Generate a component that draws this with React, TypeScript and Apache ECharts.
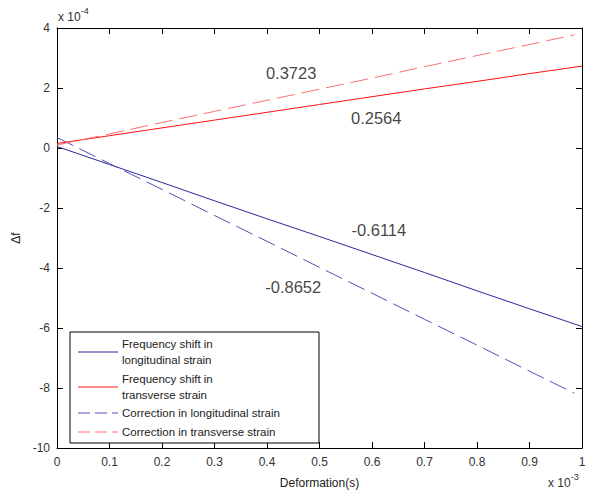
import React, { useEffect, useRef } from "react";
import * as echarts from "echarts";

const xSolid = [0, 0.1, 0.2, 0.3, 0.4, 0.5, 0.6, 0.7, 0.8, 0.9, 1.0];
const xDashed = [0, 0.1, 0.2, 0.3, 0.4, 0.5, 0.6, 0.7, 0.8, 0.9, 0.985];
const freqLongitudinal = [0.05, -0.55, -1.15, -1.76, -2.36, -2.95, -3.55, -4.15, -4.76, -5.36, -5.95];
const freqTransverse = [0.15, 0.41, 0.67, 0.93, 1.19, 1.45, 1.71, 1.97, 2.22, 2.48, 2.73];
const corrLongitudinal = [0.35, -0.52, -1.38, -2.25, -3.11, -3.98, -4.84, -5.71, -6.57, -7.44, -8.17];
const corrTransverse = [0.1, 0.47, 0.85, 1.22, 1.59, 1.96, 2.33, 2.71, 3.08, 3.45, 3.77];
const slopeLabels = [
  { text: "0.3723", x: 0.446, y: 2.51 },
  { text: "0.2564", x: 0.608, y: 1.0 },
  { text: "-0.6114", x: 0.613, y: -2.72 },
  { text: "-0.8652", x: 0.45, y: -4.62 },
];
const legendItems = [
  { name: "Frequency shift in\nlongitudinal strain", color: "#2a2a9a", dashed: false },
  { name: "Frequency shift in\ntransverse strain", color: "#ff1010", dashed: false },
  { name: "Correction in longitudinal strain", color: "#5050b8", dashed: true },
  { name: "Correction in transverse strain", color: "#ff7070", dashed: true },
];

const FONT = "Liberation Sans";

export default function App() {
  const ref = useRef<HTMLDivElement>(null);
  useEffect(() => {
    const chart = echarts.init(ref.current!, null, { renderer: "svg" });
    const L = 57, T = 28, W = 525, H = 421;
    const pair = (xs: number[], ys: number[]) => xs.map((x, i) => [x, ys[i]]);
    const tick = () => ({ show: true, inside: true, length: 6, lineStyle: { color: "#000", width: 1 } });
    const line = () => ({ show: true, onZero: false, lineStyle: { color: "#000", width: 1 } });
    const legendGraphics: any[] = [];
    legendGraphics.push({
      type: "rect",
      shape: { x: 70, y: 332, width: 249, height: 111 },
      style: { fill: "#fff", stroke: "#000", lineWidth: 1 },
      z: 100,
    });
    const rowY = [352, 387, 413, 432];
    legendItems.forEach((it, i) => {
      legendGraphics.push({
        type: "line",
        shape: { x1: 78, y1: rowY[i], x2: 118, y2: rowY[i] },
        style: { stroke: it.color, lineWidth: 1, lineDash: it.dashed ? [12, 5] : null },
        z: 101,
      });
      legendGraphics.push({
        type: "text",
        x: 122,
        y: rowY[i],
        style: {
          text: it.name,
          fontFamily: FONT,
          fontSize: 11.5,
          lineHeight: 16,
          fill: "#222",
          verticalAlign: "middle",
          align: "left",
        },
        z: 101,
      });
    });

    chart.setOption({
      animation: false,
      grid: { left: L, top: T, width: W, height: H },
      xAxis: [
        {
          type: "value",
          min: 0,
          max: 1,
          interval: 0.1,
          position: "bottom",
          axisLine: line(),
          axisTick: tick(),
          splitLine: { show: false },
          name: "Deformation(s)",
          nameLocation: "middle",
          nameGap: 29,
          nameTextStyle: { fontFamily: FONT, fontSize: 12, color: "#222" },
          axisLabel: {
            fontFamily: FONT,
            fontSize: 12,
            color: "#333",
            margin: 8,
            formatter: (v: number) => (v === 0 ? "0" : v === 1 ? "1" : String(+v.toFixed(1))),
          },
        },
        {
          type: "value",
          min: 0,
          max: 1,
          interval: 0.1,
          position: "top",
          axisLine: line(),
          axisTick: tick(),
          splitLine: { show: false },
          axisLabel: { show: false },
        },
      ],
      yAxis: [
        {
          type: "value",
          min: -10,
          max: 4,
          interval: 2,
          position: "left",
          axisLine: line(),
          axisTick: tick(),
          splitLine: { show: false },
          name: "Δf",
          nameLocation: "middle",
          nameGap: 18,
          nameRotate: 90,
          nameTextStyle: { fontFamily: FONT, fontSize: 12, color: "#222" },
          axisLabel: { fontFamily: FONT, fontSize: 12, color: "#333", margin: 7 },
        },
        {
          type: "value",
          min: -10,
          max: 4,
          interval: 2,
          position: "right",
          axisLine: line(),
          axisTick: tick(),
          splitLine: { show: false },
          axisLabel: { show: false },
        },
      ],
      series: [
        {
          type: "line",
          name: legendItems[0].name,
          data: pair(xSolid, freqLongitudinal),
          showSymbol: false,
          lineStyle: { color: legendItems[0].color, width: 1 },
        },
        {
          type: "line",
          name: legendItems[1].name,
          data: pair(xSolid, freqTransverse),
          showSymbol: false,
          lineStyle: { color: legendItems[1].color, width: 1 },
        },
        {
          type: "line",
          name: legendItems[2].name,
          data: pair(xDashed, corrLongitudinal),
          showSymbol: false,
          lineStyle: { color: legendItems[2].color, width: 1, type: [18, 7] },
        },
        {
          type: "line",
          name: legendItems[3].name,
          data: pair(xDashed, corrTransverse),
          showSymbol: false,
          lineStyle: { color: legendItems[3].color, width: 1, type: [18, 7] },
        },
        {
          type: "scatter",
          data: slopeLabels.map((s) => ({ value: [s.x, s.y], name: s.text })),
          symbolSize: 0,
          label: {
            show: true,
            position: "inside",
            formatter: (p: any) => p.name,
            fontFamily: FONT,
            fontSize: 16.5,
            color: "#111",
          },
          silent: true,
        },
      ],
      graphic: [
        {
          type: "text",
          left: 58,
          top: 6,
          style: {
            text: "{a|x 10}{b|-4}",
            rich: {
              a: { fontFamily: FONT, fontSize: 12, fill: "#333", padding: [6, 0, 0, 0] },
              b: { fontFamily: FONT, fontSize: 9, fill: "#333", padding: [0, 0, 6, 0] },
            },
          },
        },
        {
          type: "text",
          left: 548,
          top: 472,
          style: {
            text: "{a|x 10}{b|-3}",
            rich: {
              a: { fontFamily: FONT, fontSize: 12, fill: "#333", padding: [6, 0, 0, 0] },
              b: { fontFamily: FONT, fontSize: 9, fill: "#333", padding: [0, 0, 6, 0] },
            },
          },
        },
        ...legendGraphics,
      ],
    });
    return () => chart.dispose();
  }, []);
  return (
    <div
      ref={ref}
      style={{ position: "fixed", left: 0, top: 0, width: 590, height: 494, background: "#fff" }}
    />
  );
}
